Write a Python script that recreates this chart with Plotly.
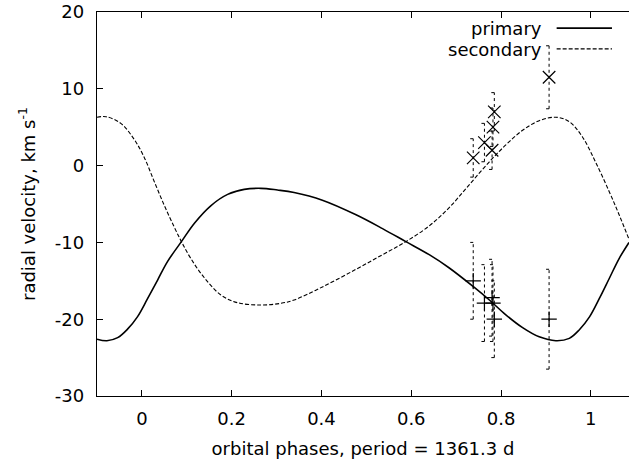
import plotly.graph_objects as go

# ---- model curves (phase, radial velocity) ----
primary_phase = [-0.100, -0.078, -0.054, -0.032, -0.010, 0.012, 0.035, 0.057, 0.088,
                 0.117, 0.154, 0.191, 0.228, 0.265, 0.302, 0.339, 0.402, 0.477, 0.536,
                 0.588, 0.640, 0.684, 0.737, 0.774, 0.810, 0.848, 0.885, 0.922, 0.952,
                 0.974, 0.997, 1.019, 1.041, 1.063, 1.085]
primary_curve = [-22.6, -22.8, -22.4, -21.3, -19.7, -17.4, -14.9, -12.5, -9.9,
                 -7.5, -5.2, -3.75, -3.1, -2.96, -3.18, -3.5, -4.5, -6.4, -8.2,
                 -9.9, -11.6, -13.3, -15.7, -17.5, -19.4, -21.1, -22.3, -22.8, -22.5,
                 -21.4, -19.7, -17.3, -14.7, -12.1, -10.0]

secondary_phase = [-0.100, -0.080, -0.047, -0.017, 0.005, 0.027, 0.050, 0.072, 0.088,
                   0.109, 0.139, 0.176, 0.213, 0.265, 0.310, 0.339, 0.402, 0.477, 0.536,
                   0.588, 0.640, 0.684, 0.729, 0.774, 0.810, 0.848, 0.885, 0.922, 0.952,
                   0.981, 1.011, 1.041, 1.063, 1.085]
secondary_curve = [6.3, 6.37, 5.5, 3.4, 1.1, -2.0, -5.2, -8.0, -9.9,
                   -12.1, -14.6, -16.85, -17.85, -18.15, -17.93, -17.5, -15.8, -13.5, -11.6,
                   -9.9, -7.85, -5.5, -2.5, 0.5, 2.66, 4.6, 5.85, 6.3, 5.72,
                   3.76, 0.4, -3.4, -6.4, -9.6]

# ---- observations ----
obs_phase = [0.738, 0.763, 0.780, 0.782, 0.785, 0.907]
obs_primary = [-15.0, -17.9, -17.2, -17.9, -20.0, -20.0]
obs_primary_err = [5.0, 5.0, 5.0, 5.0, 5.0, 6.5]
obs_secondary = [1.0, 3.0, 2.0, 5.0, 7.0, 11.5]
obs_secondary_err = [2.5, 2.5, 2.5, 2.5, 2.5, 4.1]

x_range = [-0.1, 1.085]
y_range = [-30, 20]
y_ticks = [-30, -20, -10, 0, 10, 20]
y_ticklabels = [str(v) for v in y_ticks]
x_ticks = [0, 0.2, 0.4, 0.6, 0.8, 1]
x_ticklabels = ["0", "0.2", "0.4", "0.6", "0.8", "1"]

FONT = "DejaVu Sans"
FS = 18
W, H = 629, 463
ML, MR, MT, MB = 97, 0, 12, 67

fig = go.Figure()

fig.add_trace(go.Scatter(x=primary_phase, y=primary_curve, mode="lines",
                         line=dict(color="black", width=1.6, shape="spline"),
                         showlegend=False, hoverinfo="skip"))
fig.add_trace(go.Scatter(x=secondary_phase, y=secondary_curve, mode="lines",
                         line=dict(color="black", width=1.1, shape="spline", dash="4px,2px"),
                         showlegend=False, hoverinfo="skip"))

# dotted error bars with small caps
px_per_unit = (W - ML - MR) / (x_range[1] - x_range[0])
cap = 3.0 / px_per_unit


def err_xy(xs, ys, es):
    ex, ey = [], []
    for x, y, e in zip(xs, ys, es):
        ex += [x, x, None, x - cap, x + cap, None, x - cap, x + cap, None]
        ey += [y - e, y + e, None, y - e, y - e, None, y + e, y + e, None]
    return ex, ey


for ys, es in ((obs_primary, obs_primary_err), (obs_secondary, obs_secondary_err)):
    ex, ey = err_xy(obs_phase, ys, es)
    fig.add_trace(go.Scatter(x=ex, y=ey, mode="lines",
                             line=dict(color="black", width=1, dash="dot"),
                             showlegend=False, hoverinfo="skip"))

fig.add_trace(go.Scatter(x=obs_phase, y=obs_primary, mode="markers",
                         marker=dict(symbol="cross-thin", size=11,
                                     line=dict(color="black", width=1.2)),
                         showlegend=False))
fig.add_trace(go.Scatter(x=obs_phase, y=obs_secondary, mode="markers",
                         marker=dict(symbol="x-thin", size=12.5,
                                     line=dict(color="black", width=1.2)),
                         showlegend=False))

# gnuplot-style key: text on the left, sample on the right
key_items = [("primary", 0.956, "solid", 1.6), ("secondary", 0.902, "4px,2px", 1.1)]
for label, yk, dash, lw in key_items:
    fig.add_annotation(xref="paper", yref="paper", x=0.840, y=yk, text=label,
                       showarrow=False, xanchor="right", yanchor="middle",
                       font=dict(family=FONT, size=FS, color="black"))
    fig.add_shape(type="line", xref="paper", yref="paper", x0=0.864, x1=0.968,
                  y0=yk + 0.002, y1=yk + 0.002,
                  line=dict(color="black", width=lw, dash=dash))

fig.update_layout(
    width=W, height=H,
    margin=dict(l=ML, r=MR, t=MT, b=MB, autoexpand=False),
    paper_bgcolor="white", plot_bgcolor="white",
    font=dict(family=FONT, size=FS, color="black"),
    showlegend=False,
    xaxis=dict(range=x_range, tickvals=x_ticks, ticktext=x_ticklabels,
               ticks="inside", ticklen=6, tickwidth=1, tickcolor="black",
               showline=True, linecolor="black", linewidth=1.3, mirror="ticks",
               showgrid=False, zeroline=False, ticklabelstandoff=6, automargin=False,
               title=dict(text="orbital phases, period = 1361.3 d", standoff=14,
                          font=dict(family=FONT, size=FS))),
    yaxis=dict(range=y_range, tickvals=y_ticks, ticktext=y_ticklabels,
               ticks="inside", ticklen=6, tickwidth=1, tickcolor="black",
               showline=True, linecolor="black", linewidth=1.3, mirror=False,
               showgrid=False, zeroline=False, ticklabelstandoff=8, automargin=False,
               ticklabeloverflow="allow",
               title=dict(text="radial velocity, km s<sup>-1</sup>", standoff=14,
                          font=dict(family=FONT, size=FS))),
)

fig.write_html("out.html",
               config={"displayModeBar": False, "staticPlot": True},
               post_script="document.body.style.margin='0';document.body.style.overflow='hidden';")
